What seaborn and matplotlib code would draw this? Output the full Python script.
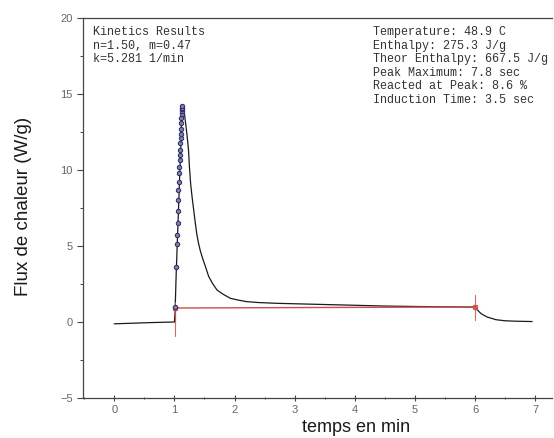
import numpy as np
import pandas as pd
import matplotlib
matplotlib.use("Agg")
import matplotlib.pyplot as plt
from matplotlib.ticker import MultipleLocator
import seaborn as sns

# heat flow curve (time in min, W/g)
time = [0.0, 0.3, 0.6, 0.9, 1.0, 1.01, 1.01, 1.03, 1.05, 1.07, 1.09, 1.11, 1.125,
        1.14, 1.16, 1.18, 1.21, 1.235, 1.25, 1.27, 1.295, 1.32, 1.345, 1.37, 1.40,
        1.43, 1.46, 1.52, 1.57, 1.64, 1.71, 1.8, 1.93, 2.05, 2.2, 2.4, 2.7, 3.0,
        3.5, 4.0, 4.5, 5.0, 5.5, 6.0, 6.05, 6.1, 6.2, 6.35, 6.5, 6.7, 6.95]
flux = [-0.12, -0.08, -0.04, -0.01, 0.0, 0.0, 1.0, 3.2, 5.4, 7.6, 9.8, 12.0, 14.0,
        14.2, 13.9, 13.3, 12.3, 11.3, 10.2, 9.1, 8.2, 7.4, 6.6, 5.85, 5.2,
        4.7, 4.3, 3.6, 3.0, 2.5, 2.1, 1.85, 1.56, 1.45, 1.34, 1.28, 1.23, 1.2,
        1.15, 1.1, 1.05, 1.02, 1.0, 0.98, 0.75, 0.55, 0.33, 0.15, 0.08, 0.05, 0.03]

# fitted kinetic points on the rising edge
fit_t = [1.01, 1.03, 1.043, 1.047, 1.052, 1.057, 1.063, 1.068, 1.074, 1.079, 1.084,
         1.089, 1.093, 1.097, 1.101, 1.104, 1.107, 1.11, 1.113, 1.116, 1.119, 1.122,
         1.124, 1.126, 1.128]
fit_v = [1.0, 3.6, 5.1, 5.7, 6.5, 7.3, 8.0, 8.7, 9.2, 9.8, 10.2, 10.66, 11.0, 11.3,
         11.8, 12.1, 12.4, 12.7, 13.07, 13.4, 13.7, 13.9, 14.0, 14.1, 14.2]

# integration baseline
base_t = [1.01, 6.0]
base_v = [0.92, 0.99]

left_text = "Kinetics Results\nn=1.50, m=0.47\nk=5.281 1/min"
right_text = ("Temperature: 48.9 C\nEnthalpy: 275.3 J/g\nTheor Enthalpy: 667.5 J/g\n"
              "Peak Maximum: 7.8 sec\nReacted at Peak: 8.6 %\nInduction Time: 3.5 sec")

sns.set_style("ticks")
plt.rcParams['font.family'] = ['Liberation Sans', 'DejaVu Sans']

fig = plt.figure(figsize=(5.54, 4.38), dpi=100)
ax = fig.add_axes([83 / 554, 1 - 398 / 438, 469 / 554, 380 / 438])

curve = pd.DataFrame({'t': time, 'v': flux})
sns.lineplot(data=curve, x='t', y='v', sort=False, color='#1a1a1a', lw=0.9, ax=ax)

red = '#c8504a'
sns.lineplot(x=base_t, y=base_v, color=red, lw=1.0, ax=ax)
ax.plot([1.01, 1.01], [-0.9, 1.3], color=red, lw=0.8, alpha=0.85)
ax.plot([6.0, 6.0], [0.1, 1.8], color=red, lw=0.8, alpha=0.85)
ax.plot(base_t, base_v, 's', color=red, ms=3, alpha=0.8)

sns.scatterplot(x=fit_t, y=fit_v, s=10, color='#80809a', edgecolor='#2a2a70',
                linewidth=0.7, ax=ax, zorder=5)

ax.set_xlim(-0.52, 7.28)
ax.set_ylim(-5, 20)
ax.xaxis.set_major_locator(MultipleLocator(1))
ax.xaxis.set_minor_locator(MultipleLocator(0.5))
ax.yaxis.set_major_locator(MultipleLocator(5))
ax.yaxis.set_minor_locator(MultipleLocator(2.5))
ax.tick_params(axis='both', which='major', labelsize=8, labelcolor='#666666',
               color='#444444', length=4, width=0.8)
ax.tick_params(axis='both', which='minor', color='#444444', length=2, width=0.7)
ax.tick_params(axis='x', which='both', direction='inout')
ax.tick_params(axis='x', which='major', pad=3)

for side in ['left', 'bottom', 'top']:
    ax.spines[side].set_color('#444444')
    ax.spines[side].set_linewidth(0.9)
ax.spines['right'].set_visible(False)

ax.set_xlabel('temps en min', fontsize=13, color='#1a1a1a')
ax.xaxis.set_label_coords((356 - 83) / 469, -0.055)
ax.set_ylabel('Flux de chaleur (W/g)', fontsize=13.5, color='#1a1a1a')
ax.yaxis.set_label_coords(-(83 - 32) / 469, 0.505)

mono = dict(family='Liberation Mono', fontsize=8.5, color='#333333', linespacing=1.17, va='top')
ax.text(0.021, 0.979, left_text, transform=ax.transAxes, ha='left', **mono)
ax.text(0.618, 0.979, right_text, transform=ax.transAxes, ha='left', **mono)

fig.savefig('out.png', dpi=100)
